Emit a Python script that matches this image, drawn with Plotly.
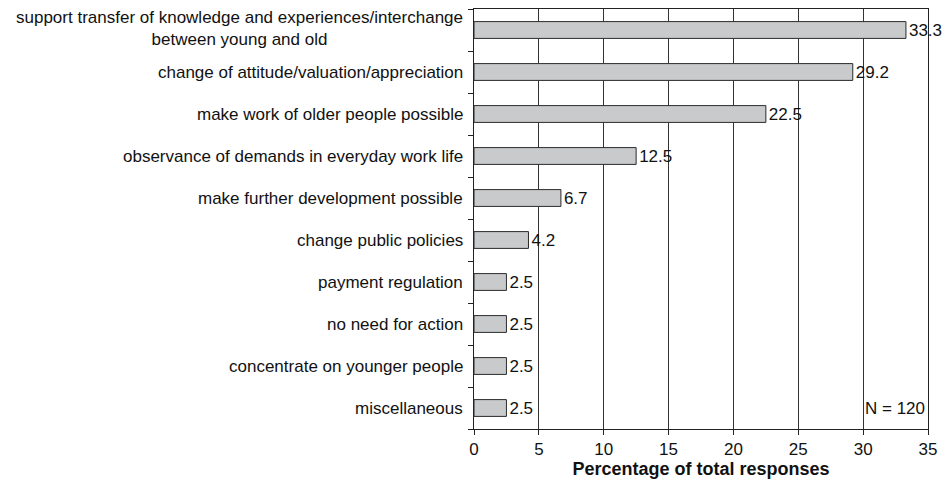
import plotly.graph_objects as go

categories = [
    "support transfer of knowledge and experiences/interchange<br>between young and old",
    "change of attitude/valuation/appreciation",
    "make work of older people possible",
    "observance of demands in everyday work life",
    "make further development possible",
    "change public policies",
    "payment regulation",
    "no need for action",
    "concentrate on younger people",
    "miscellaneous",
]
values = [33.3, 29.2, 22.5, 12.5, 6.7, 4.2, 2.5, 2.5, 2.5, 2.5]
x_ticks = [0, 5, 10, 15, 20, 25, 30, 35]

FONT = "Liberation Sans, Arial, Helvetica, sans-serif"
FS = 17

fig = go.Figure()
fig.add_trace(go.Bar(
    x=values,
    y=categories,
    orientation="h",
    width=0.4,
    marker=dict(color="#c9cacc", line=dict(color="#2a2a2a", width=1)),
    text=[f"{v:.1f}" for v in values],
    textposition="outside",
    constraintext="none",
    textfont=dict(family=FONT, size=FS, color="#111"),
    cliponaxis=False,
))

# Category labels drawn as annotations so multi-line labels stay centred
annotations = []
for i, c in enumerate(categories):
    annotations.append(dict(
        x=0, xref="paper", y=c, yref="y",
        text=c, showarrow=False, xanchor="right", yanchor="middle",
        xshift=-9, yshift=2 if "<br>" in c else 0, align="center",
        font=dict(family=FONT, size=FS, color="#111"),
    ))
annotations.append(dict(
    x=1, xref="paper", y=categories[-1], yref="y",
    text="N = 120", showarrow=False, xanchor="right", yanchor="middle",
    xshift=-1, font=dict(family=FONT, size=FS, color="#111"),
))

fig.update_layout(
    width=946, height=483,
    margin=dict(l=474, r=18, t=9, b=54),
    paper_bgcolor="white", plot_bgcolor="white",
    showlegend=False,
    annotations=annotations,
    xaxis=dict(
        range=[0, 35], tickvals=x_ticks, ticks="outside", ticklen=5,
        tickcolor="#222", showgrid=True, gridcolor="#333", gridwidth=1,
        showline=True, linecolor="#222", linewidth=1, mirror=True,
        zeroline=False,
        tickfont=dict(family=FONT, size=FS, color="#111"),
        title=dict(text="<b>Percentage of total responses</b>",
                   font=dict(family=FONT, size=18, color="#111"), standoff=2),
    ),
    yaxis=dict(
        categoryorder="array", categoryarray=categories[::-1],
        showticklabels=False, ticks="outside", tickson="boundaries",
        ticklen=5, tickcolor="#222", showgrid=False,
        showline=True, linecolor="#222", linewidth=1, mirror=True,
        range=[-0.5, len(categories) - 0.5],
    ),
)

fig.write_html("out.html")
